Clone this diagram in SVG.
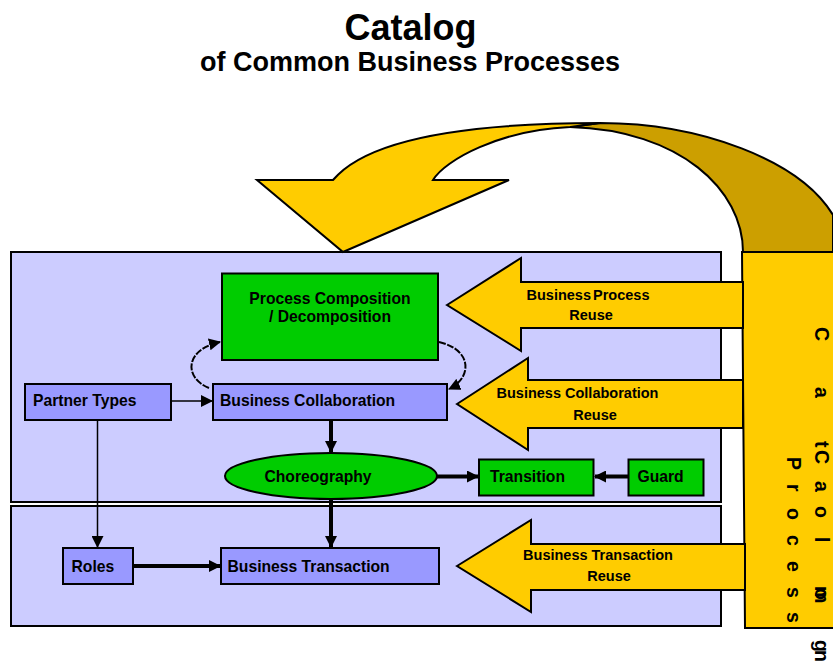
<svg xmlns="http://www.w3.org/2000/svg" width="833" height="665" viewBox="0 0 833 665">
<style>
text{font-family:"Liberation Sans",Arial,sans-serif;font-weight:bold;fill:#000}
.panel{fill:#CCCCFF;stroke:#000;stroke-width:2}
.blue{fill:#9999FF;stroke:#000;stroke-width:2}
.green{fill:#00CC00;stroke:#000;stroke-width:2}
.gold{fill:#FFCC00;stroke:#000;stroke-width:2}
.lbl{font-size:15.7px}
.big{font-size:14.5px}
.thin{stroke:#000;stroke-width:1.5;fill:none}
.thick{stroke:#000;stroke-width:4;fill:none}
.curl{stroke:#000;stroke-width:2;fill:none;stroke-dasharray:7 1.5}
.vt{font-size:19.5px}
</style>
<defs>
<marker id="ah" markerWidth="12" markerHeight="12" refX="11" refY="6" orient="auto" markerUnits="userSpaceOnUse">
<path d="M0,0 L12,6 L0,12 Z" fill="#000"/>
</marker>
<marker id="ahs" markerWidth="12" markerHeight="12" refX="11" refY="6" orient="auto" markerUnits="userSpaceOnUse">
<path d="M0,0 L12,6 L0,12 Z" fill="#000"/>
</marker>
</defs>
<rect width="833" height="665" fill="#fff"/>
<g id="title">
<text x="410.5" y="40" font-size="36" text-anchor="middle">Catalog</text>
<text x="410" y="71" font-size="27" text-anchor="middle">of Common Business Processes</text>
</g>
<g id="panels">
<rect class="panel" x="11" y="252" width="710" height="250"/>
<rect class="panel" x="11" y="506" width="710" height="120"/>
</g>
<g id="catalog-arrow">
<path d="M743,252 C743,190 680,130 570,127 L600,123 C700,123 800,160 833,215 L833,252 Z" fill="#CC9F00" stroke="#000" stroke-width="2"/>
<path d="M433,180 L509,180 L343,252 L257,180 L333,180 C368,138 470,123 600,123 L570,127 C500,130 445,160 433,180 Z" class="gold"/>
</g>
<g id="catalog-box">
<polygon class="gold" points="742,252 834,252 834,628 745,628"/>
<text class="vt" transform="rotate(90)"><tspan x="327" y="-815">C</tspan><tspan x="387" y="-815">a</tspan><tspan x="441" y="-815">t</tspan><tspan x="450" y="-815">C</tspan><tspan x="481" y="-815">a</tspan><tspan x="506" y="-815">o</tspan><tspan x="537" y="-815">l</tspan><tspan x="586" y="-815">m</tspan><tspan x="588" y="-815">o</tspan><tspan x="640" y="-815">g</tspan><tspan x="650" y="-815">n</tspan></text>
<text class="vt" transform="rotate(90)"><tspan x="457" y="-787">P</tspan><tspan x="484" y="-787">r</tspan><tspan x="508" y="-787">o</tspan><tspan x="535" y="-787">c</tspan><tspan x="561" y="-787">e</tspan><tspan x="587" y="-787">s</tspan><tspan x="612" y="-787">s</tspan></text>
</g>
<g id="reuse-process">
<polygon class="gold" points="447,305 521,258 521,282 743,282 743,328 521,328 521,351"/>
<text class="big" x="588" y="299.5" text-anchor="middle" word-spacing="-2">Business Process</text>
<text class="big" x="591" y="319.5" text-anchor="middle">Reuse</text>
</g>
<g id="reuse-collaboration">
<polygon class="gold" points="457,404 528,358 528,380 743,380 743,428 528,428 528,450"/>
<text class="big" x="577.5" y="398" text-anchor="middle">Business Collaboration</text>
<text class="big" x="595" y="419.5" text-anchor="middle">Reuse</text>
</g>
<g id="reuse-transaction">
<polygon class="gold" points="457,566 531,520 531,544 745,544 745,590 531,590 531,612"/>
<text class="big" x="598" y="560" text-anchor="middle">Business Transaction</text>
<text class="big" x="609" y="581" text-anchor="middle">Reuse</text>
</g>
<g id="connectors">
<line class="thin" x1="171" y1="401" x2="212" y2="401" marker-end="url(#ah)"/>
<line class="thin" x1="97.5" y1="420" x2="97.5" y2="547" marker-end="url(#ah)"/>
<line class="thick" x1="331" y1="420" x2="331" y2="452" marker-end="url(#ahs)"/>
<line class="thick" x1="331" y1="499" x2="331" y2="547" marker-end="url(#ahs)"/>
<line class="thick" x1="133" y1="566" x2="220" y2="566" marker-end="url(#ahs)"/>
<line class="thick" x1="437" y1="476.5" x2="478" y2="476.5" marker-end="url(#ahs)"/>
<line class="thick" x1="628" y1="476.5" x2="595" y2="476.5" marker-end="url(#ahs)"/>
<path class="curl" d="M209,388 C184,378 184,350 220,342" marker-end="url(#ah)"/>
<path class="curl" d="M439,342 C473,350 472,378 449,389" marker-end="url(#ah)"/>
</g>
<g id="process-composition">
<rect class="green" x="222" y="273.5" width="216" height="86.5"/>
<text class="lbl" x="330" y="304" text-anchor="middle">Process Composition</text>
<text class="lbl" x="330" y="321.5" text-anchor="middle">/ Decomposition</text>
</g>
<g id="partner-types">
<rect class="blue" x="25" y="384" width="146" height="36"/>
<text class="lbl" x="33" y="406">Partner Types</text>
</g>
<g id="business-collaboration">
<rect class="blue" x="213" y="384" width="234" height="36"/>
<text class="lbl" x="220" y="406">Business Collaboration</text>
</g>
<g id="choreography">
<ellipse class="green" cx="331" cy="476" rx="106" ry="23"/>
<text class="lbl" x="318" y="481.5" text-anchor="middle">Choreography</text>
</g>
<g id="transition">
<rect class="green" x="479" y="459.5" width="114.5" height="36"/>
<text class="lbl" x="490" y="481.5">Transition</text>
</g>
<g id="guard">
<rect class="green" x="628.5" y="459.5" width="75" height="36"/>
<text class="lbl" x="637.5" y="481.5">Guard</text>
</g>
<g id="roles">
<rect class="blue" x="63" y="548" width="70" height="36"/>
<text class="lbl" x="71.5" y="571.5">Roles</text>
</g>
<g id="business-transaction">
<rect class="blue" x="221" y="548" width="218" height="36"/>
<text class="lbl" x="227.5" y="571.5">Business Transaction</text>
</g>
</svg>
